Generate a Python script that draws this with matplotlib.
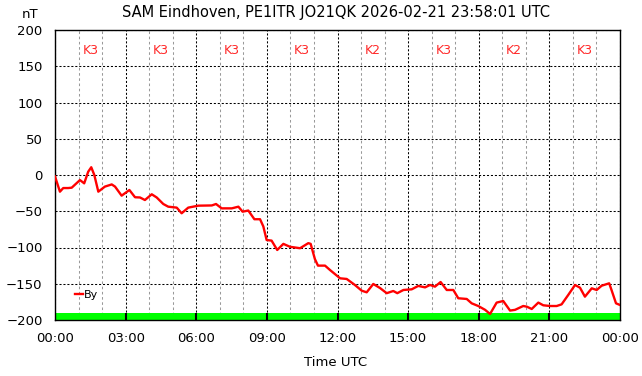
import numpy as np
import matplotlib
matplotlib.use("Agg")
import matplotlib.pyplot as plt

# By magnetometer trace, hours UTC vs nT
hours = [0.00, 0.21, 0.35, 0.56, 0.71, 1.06, 1.24, 1.41, 1.54, 1.67,
         1.84, 2.12, 2.41, 2.55, 2.83, 3.16, 3.40, 3.61, 3.82, 4.11,
         4.32, 4.60, 4.81, 5.17, 5.38, 5.66, 6.09, 6.66, 6.84, 7.08,
         7.51, 7.79, 7.97, 8.21, 8.47, 8.71, 8.85, 8.99, 9.20, 9.44,
         9.70, 9.98, 10.41, 10.76, 10.86, 11.04, 11.17, 11.47, 11.68, 12.11,
         12.39, 12.74, 13.03, 13.24, 13.52, 13.81, 14.09, 14.37, 14.54, 14.80,
         15.15, 15.43, 15.72, 15.93, 16.14, 16.38, 16.64, 16.92, 17.13, 17.49,
         17.70, 17.98, 18.27, 18.48, 18.76, 19.04, 19.33, 19.54, 19.89, 20.04,
         20.25, 20.53, 20.74, 21.03, 21.31, 21.52, 21.80, 22.09, 22.30, 22.51,
         22.80, 23.01, 23.22, 23.54, 23.64, 23.83, 24.00]
by_nt = [-2, -23, -18, -18, -17.5, -7, -11.5, 4.5, 10.7, 0,
         -23, -16, -13, -16, -28.5, -20.7, -30.7, -31, -34.5, -26.6,
         -31, -40, -43.7, -45, -52.8, -45, -42.3, -42, -40, -46,
         -46, -43.7, -50.6, -49, -61, -61, -71, -89.7, -90.5, -103.4,
         -95, -99, -101, -94, -95, -116, -125, -125, -131, -142.5,
         -143.4, -151.7, -159.6, -161.8, -150.3, -156, -163, -160, -163, -158.6,
         -157.7, -153, -155, -151.7, -154, -147.6, -158.6, -158.6, -170, -171,
         -177, -180.7, -186, -191.7, -176, -173.8, -187, -186, -180.7, -181.6,
         -184.8, -176, -179.7, -180.7, -180.7, -178.4, -165.5, -151.7, -155.4, -167.8,
         -156.3, -158.6, -152.7, -149.4, -158.6, -177, -179.3]

# K index per 3-hour block
k_start = [0, 3, 6, 9, 12, 15, 18, 21]
k_index = [3, 3, 3, 3, 2, 3, 2, 3]

x_ticks = [0, 3, 6, 9, 12, 15, 18, 21, 24]
x_labels = ["00:00", "03:00", "06:00", "09:00", "12:00",
            "15:00", "18:00", "21:00", "00:00"]
y_ticks = [-200, -150, -100, -50, 0, 50, 100, 150, 200]

fig = plt.figure(figsize=(6.42, 3.76), dpi=100)
ax = fig.add_axes([55 / 642, 56 / 376, 565 / 642, 290 / 376])

ax.set_xlim(0, 24)
ax.set_ylim(-200, 200)

# grid: hourly gray dashes, 3-hourly black dots
ax.set_xticks(range(25), minor=True)
ax.grid(True, which="minor", axis="x", color="#999999", linestyle=(0, (2.5, 2.5)), linewidth=0.75)
ax.grid(True, which="major", axis="both", color="black", linestyle=(0, (2, 1.8)), linewidth=0.75)
ax.set_axisbelow(True)

# K-index bars along the bottom
ax.bar(k_start, [10] * len(k_start), width=3, bottom=-200, align="edge",
       color="#00ff00", edgecolor="none", zorder=2)
ax.vlines(k_start[1:], -200, -190, color="black", linewidth=1.5, zorder=3)
for s, k in zip(k_start, k_index):
    ax.text(s + 1.5, 172, "K%d" % k, color="#ff2a2a", fontsize=9,
            ha="center", va="center")

ax.plot(hours, by_nt, color="#ff0000", linewidth=1.7, label="By", zorder=4)

ax.set_xticks(x_ticks)
ax.set_xticklabels(x_labels)
ax.set_yticks(y_ticks)
ax.tick_params(axis="both", which="both", length=0, labelsize=9.5, pad=9)
for sp in ax.spines.values():
    sp.set_color("black")
    sp.set_linewidth(1.0)

ax.legend(loc="lower left", bbox_to_anchor=(0.028, 0.055), frameon=False,
          fontsize=8, handlelength=0.7, handletextpad=0.1, borderaxespad=0)

fig.text(122 / 642, 1 - 12 / 376, "SAM Eindhoven, PE1ITR JO21QK 2026-02-21 23:58:01 UTC",
         fontsize=10.5, ha="left", va="center")
fig.text(30 / 642, 1 - 14 / 376, "nT", fontsize=9.5, ha="center", va="center")
fig.text(336 / 642, 1 - 362 / 376, "Time UTC", fontsize=9.5, ha="center", va="center")

fig.savefig("out.png", dpi=100)
